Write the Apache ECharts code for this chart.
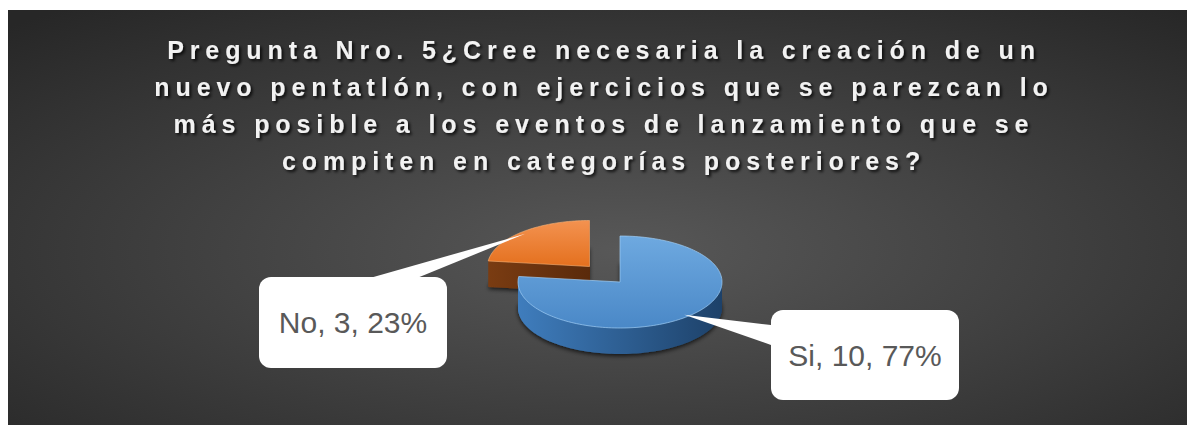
<!DOCTYPE html>
<html>
<head>
<meta charset="utf-8">
<script src="https://cdn.jsdelivr.net/npm/echarts@6/dist/echarts.min.js"></script>
<style>
html, body { margin: 0; padding: 0; background: #fff; }
#main { position: absolute; left: 8px; top: 10px; width: 1179px; height: 415px; }
#main text[style*="bold"], #main text[font-weight="bold"] { letter-spacing: 5.9px; }
</style>
</head>
<body>
<div id="main"></div>
<script>
var titleText = 'Pregunta Nro. 5¿Cree necesaria la creación de un\n' +
	'nuevo pentatlón, con ejercicios que se parezcan lo\n' +
	'más posible a los eventos de lanzamiento que se\n' +
	'compiten en categorías posteriores?';
var categories = ['Si', 'No'];
var counts = [10, 3];

var total = counts.reduce(function (a, b) { return a + b; }, 0);

// pie geometry (chart coords)
var cx = 612, cy = 272, rx = 102, ry = 46, depth = 26;
var explodeDist = [0, 46];
var topColors = [['#6ea9e0', '#4a88c7'], ['#f39250', '#e4701e']];
var sideColors = [['#3f7dbd', '#1d4169'], ['#7a3c12', '#5a2a0b']];
var edgeColors = ['rgba(160,205,245,0.7)', 'rgba(250,180,120,0.6)'];
// label boxes + callout base
var boxes = [
	{ x: 763, y: 300, w: 188, h: 90, base: [[763, 315], [763, 335]] },
	{ x: 251, y: 267, w: 188, h: 91, base: [[362, 268], [409, 268]] }
];

function slicePoints(ox, oy, a0, a1) {
	var pts = [[ox, oy]];
	var n = Math.max(2, Math.ceil(Math.abs(a1 - a0) / 0.03));
	for (var i = 0; i <= n; i++) {
		var a = a0 + (a1 - a0) * i / n;
		pts.push([ox + rx * Math.cos(a), oy + ry * Math.sin(a)]);
	}
	return pts;
}

function renderSlice(params, api) {
	var idx = params.dataIndex;
	var val = api.value(0);
	var before = 0;
	for (var k = 0; k < idx; k++) before += counts[k];
	var a0 = -Math.PI / 2 + before / total * Math.PI * 2;
	var a1 = a0 + val / total * Math.PI * 2;
	var m = (a0 + a1) / 2;
	var ox = cx + explodeDist[idx] * Math.cos(m);
	var oy = cy + explodeDist[idx] * Math.sin(m) * 0.45;
	var z = idx === 0 ? 10 : 0;
	var children = [];
	var pts = slicePoints(ox, oy, a0, a1);

	for (var d = depth; d >= 1; d--) {
		var layer = {
			type: 'polygon',
			z2: z,
			shape: { points: pts.map(function (p) { return [p[0], p[1] + d]; }) },
			style: {
				fill: new echarts.graphic.LinearGradient(0, 0, 1, 0, [
					{ offset: 0, color: sideColors[idx][0] },
					{ offset: 1, color: sideColors[idx][1] }
				])
			}
		};
		if (d === depth) {
			layer.style.shadowBlur = 4;
			layer.style.shadowColor = 'rgba(0,0,0,0.7)';
			layer.style.shadowOffsetY = 2;
		}
		children.push(layer);
	}
	children.push({
		type: 'polygon',
		z2: z + 1,
		shape: { points: pts },
		style: {
			fill: new echarts.graphic.LinearGradient(0, 0, 0, 1, [
				{ offset: 0, color: topColors[idx][0] },
				{ offset: 1, color: topColors[idx][1] }
			]),
			stroke: edgeColors[idx],
			lineWidth: 1
		}
	});

	// callout label
	var b = boxes[idx];
	var tip = [ox + rx * Math.cos(m) * 0.95, oy + ry * Math.sin(m) * 0.95];
	var pct = Math.round(val / total * 100);
	children.push({
		type: 'polygon',
		z2: 30,
		shape: { points: [tip, b.base[0], b.base[1]] },
		style: { fill: '#ffffff' }
	});
	children.push({
		type: 'rect',
		z2: 30,
		shape: { x: b.x, y: b.y, width: b.w, height: b.h, r: 12 },
		style: { fill: '#ffffff' }
	});
	children.push({
		type: 'text',
		z2: 31,
		style: {
			text: categories[idx] + ', ' + val + ', ' + pct + '%',
			x: b.x + b.w / 2,
			y: b.y + b.h / 2,
			align: 'center',
			verticalAlign: 'middle',
			fill: '#595959',
			font: '30px "Liberation Sans", Arial, sans-serif'
		}
	});
	return { type: 'group', children: children };
}

var myChart = echarts.init(document.getElementById('main'), null, { renderer: 'svg' });
var option = {
	animation: false,
	graphic: [{
		type: 'rect',
		z: -10,
		shape: { x: 0, y: 0, width: 1179, height: 415 },
		style: {
			fill: {
				type: 'radial', x: 0.52, y: 0.58, r: 0.75,
				colorStops: [
					{ offset: 0, color: '#585858' },
					{ offset: 1, color: '#272727' }
				]
			}
		}
	}],
	title: {
		text: titleText,
		left: 591,
		top: 16,
		textAlign: 'center',
		textStyle: {
			color: '#f2f2f2',
			fontFamily: '"Liberation Sans", Arial, sans-serif',
			fontWeight: 'bold',
			fontSize: 25,
			lineHeight: 37,
			textShadowColor: 'rgba(0,0,0,0.8)',
			textShadowBlur: 3,
			textShadowOffsetX: 2,
			textShadowOffsetY: 2
		}
	},
	series: [{
		type: 'custom',
		coordinateSystem: 'none',
		renderItem: renderSlice,
		data: counts.map(function (v, i) { return { name: categories[i], value: [v] }; })
	}]
};
myChart.setOption(option);
</script>
</body>
</html>
